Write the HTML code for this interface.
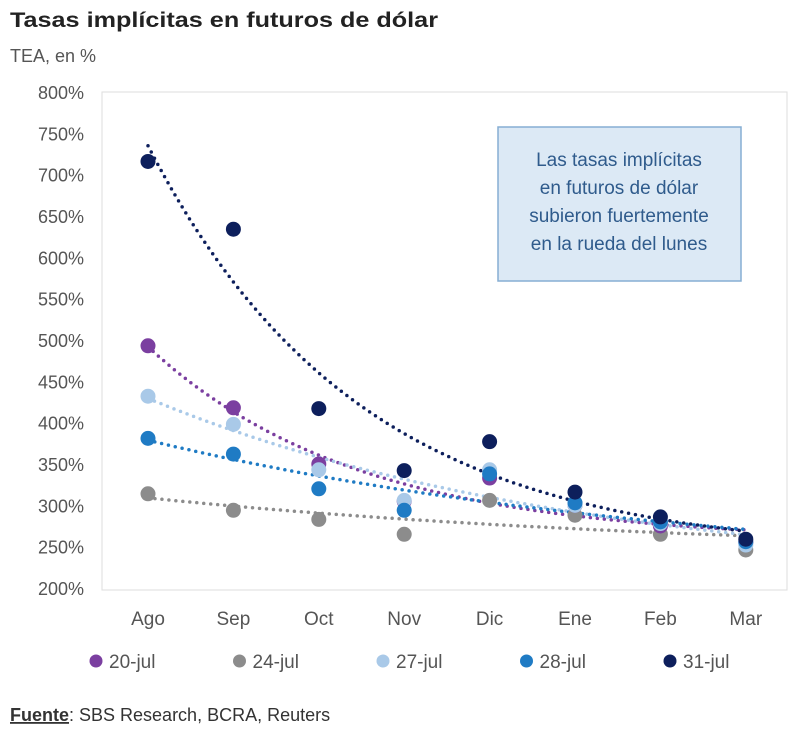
<!DOCTYPE html>
<html><head><meta charset="utf-8"><style>
body{margin:0;background:#fff;width:800px;height:745px;overflow:hidden;font-family:"Liberation Sans",sans-serif}
</style></head><body>
<svg width="800" height="745" xmlns="http://www.w3.org/2000/svg" id="c">
<text x="10" y="27" font-size="21" font-weight="bold" fill="#222" textLength="428" lengthAdjust="spacingAndGlyphs">Tasas implícitas en futuros de dólar</text>
<text x="10" y="62" font-size="18" fill="#555">TEA, en %</text>
<rect x="102" y="92" width="685" height="498" fill="none" stroke="#ddd"/>
<g id="yt"></g><g id="xt"></g><g id="trend"></g><g id="pts"></g>
<g>
<rect x="498" y="127" width="243" height="154" fill="#dce9f5" stroke="#86aed3" stroke-width="1.5"/>
<g font-size="19" fill="#2f5b8c" text-anchor="middle">
<text x="619" y="166">Las tasas implícitas</text>
<text x="619" y="194">en futuros de dólar</text>
<text x="619" y="222">subieron fuertemente</text>
<text x="619" y="250">en la rueda del lunes</text></g></g>
<g id="leg"></g>
<text x="10" y="721" font-size="18" fill="#333"><tspan font-weight="bold" text-decoration="underline">Fuente</tspan>: SBS Research, BCRA, Reuters</text>
</svg>
<script>
const categories=["Ago","Sep","Oct","Nov","Dic","Ene","Feb","Mar"];
const yTicks=[200,250,300,350,400,450,500,550,600,650,700,750,800];
const seriesNames=["20-jul","24-jul","27-jul","28-jul","31-jul"];
const seriesColors=["#7b3fa0","#8c8c8c","#a9c9e8","#1f7bc4","#0d1f5c"];
const s20=[493,418,350,305,333,300,275,255];
const s24=[314,294,283,265,306,288,265,246];
const s27=[432,398,343,306,343,300,278,252];
const s28=[381,362,320,294,338,303,280,256];
const s31=[716,634,417,342,377,316,286,259];
const series=[s20,s24,s27,s28,s31];
const NS="http://www.w3.org/2000/svg";
const xS=i=>148+i*85.4;
const yS=v=>588-(v-200)*(496/600);
function mk(t,a,p){const e=document.createElementNS(NS,t);for(const k in a)e.setAttribute(k,a[k]);p.appendChild(e);return e;}
const yt=document.getElementById('yt');
yTicks.forEach(v=>{const t=mk('text',{x:84,y:yS(v)+7,'font-size':18,fill:'#555','text-anchor':'end'},yt);t.textContent=v+'%';

});
const xt=document.getElementById('xt');
categories.forEach((c,i)=>{const t=mk('text',{x:xS(i),y:625,'font-size':19,fill:'#555','text-anchor':'middle'},xt);t.textContent=c;

});
const tr=document.getElementById('trend'),pts=document.getElementById('pts');
series.forEach((s,k)=>{
 // least-squares fit y = a*exp(b*x) + c
 let best=null;
 for(let b=-1.2;b<=-0.15;b+=0.002){
  let n=s.length,se=0,sy=0,see=0,sey=0;
  s.forEach((v,i)=>{const e=Math.exp(b*i);se+=e;sy+=v;see+=e*e;sey+=e*v;});
  const a=(n*sey-se*sy)/(n*see-se*se),c=(sy-a*se)/n;
  let sse=0;s.forEach((v,i)=>{const r=v-(a*Math.exp(b*i)+c);sse+=r*r;});
  if(!best||sse<best.sse)best={a:a,b:b,c:c,sse:sse};
 }
 let d='';for(let j=0;j<=70;j++){const x=j/10;const v=best.a*Math.exp(best.b*x)+best.c;d+=(j?'L':'M')+(148+x*85.4).toFixed(1)+','+yS(v).toFixed(1);}
 const p=mk('path',{d:d,fill:'none',stroke:seriesColors[k],'stroke-width':3.5,'stroke-dasharray':'0 7','stroke-linecap':'round'},tr);
 
 
});
[1,0,2,3,4].forEach(k=>{series[k].forEach((v,i)=>{
 const c=mk('circle',{cx:xS(i),cy:yS(v),r:7.5,fill:seriesColors[k]},pts);
 
 
});});
const leg=document.getElementById('leg');
seriesNames.forEach((n,k)=>{const x=96+k*143.5;
 const g=mk('g',{},leg);
 
 
 mk('circle',{cx:x,cy:661,r:6.5,fill:seriesColors[k]},g);
 const t=mk('text',{x:x+13,y:668,'font-size':19,fill:'#555'},g);t.textContent=n;});
</script>
</body></html>
